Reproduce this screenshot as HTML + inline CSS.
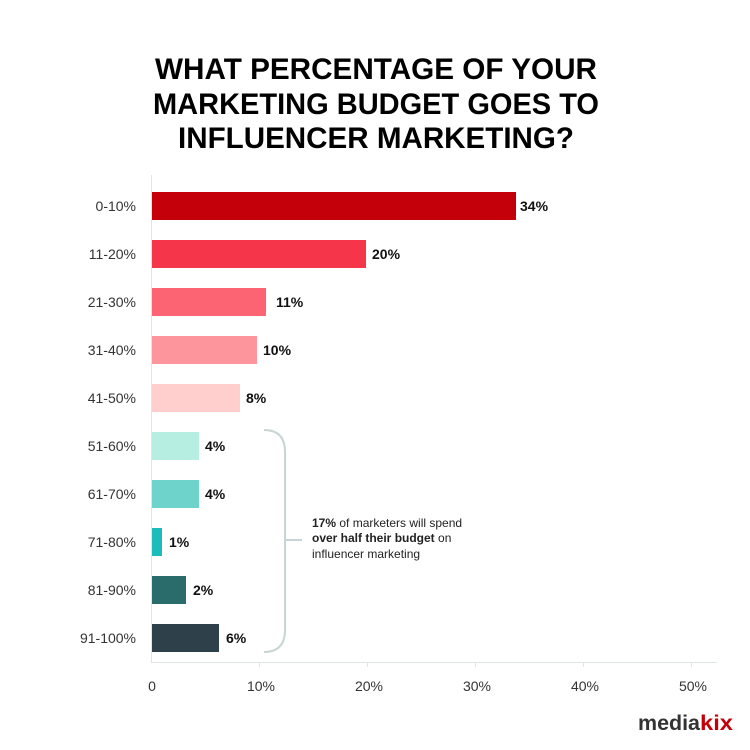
<!DOCTYPE html>
<html><head><meta charset="utf-8"><style>
html,body{margin:0;padding:0;background:#fff;}
svg{display:block;font-family:"Liberation Sans",sans-serif;}
</style></head><body>
<svg width="750" height="750" viewBox="0 0 750 750" xmlns="http://www.w3.org/2000/svg">
<rect width="750" height="750" fill="#fff"/>
<g font-weight="bold" font-size="30" fill="#000" text-anchor="middle">
<text x="376" y="79" textLength="442" lengthAdjust="spacingAndGlyphs">WHAT PERCENTAGE OF YOUR</text>
<text x="376" y="114" textLength="446" lengthAdjust="spacingAndGlyphs">MARKETING BUDGET GOES TO</text>
<text x="376" y="148" textLength="396" lengthAdjust="spacingAndGlyphs">INFLUENCER MARKETING?</text>
</g>
<line x1="151.5" y1="175" x2="151.5" y2="662" stroke="#dfe6e6" stroke-width="1"/>
<line x1="151" y1="662.5" x2="717" y2="662.5" stroke="#dfe6e6" stroke-width="1"/>
<g stroke="#dfe6e6"><line x1="259.5" y1="662" x2="259.5" y2="667"/><line x1="367.5" y1="662" x2="367.5" y2="667"/><line x1="475.5" y1="662" x2="475.5" y2="667"/><line x1="583.5" y1="662" x2="583.5" y2="667"/><line x1="691.5" y1="662" x2="691.5" y2="667"/></g>
<g font-size="14" fill="#333" text-anchor="middle">
<text x="152" y="691">0</text><text x="261" y="691">10%</text><text x="369" y="691">20%</text><text x="477" y="691">30%</text><text x="585" y="691">40%</text><text x="693" y="691">50%</text>
</g>
<g font-size="14" fill="#333" text-anchor="end">
<text x="136" y="211">0-10%</text><text x="136" y="259">11-20%</text><text x="136" y="307">21-30%</text><text x="136" y="355">31-40%</text><text x="136" y="403">41-50%</text>
<text x="136" y="451">51-60%</text><text x="136" y="499">61-70%</text><text x="136" y="547">71-80%</text><text x="136" y="595">81-90%</text><text x="136" y="643">91-100%</text>
</g>
<rect x="152" y="192" width="364" height="28" fill="#c4000a"/>
<rect x="152" y="240" width="214" height="28" fill="#f5364a"/>
<rect x="152" y="288" width="114" height="28" fill="#fd6473"/>
<rect x="152" y="336" width="105" height="28" fill="#fd959c"/>
<rect x="152" y="384" width="88" height="28" fill="#fecfcd"/>
<rect x="152" y="432" width="47" height="28" fill="#b6efe2"/>
<rect x="152" y="480" width="47" height="28" fill="#6ed4cb"/>
<rect x="152" y="528" width="10" height="28" fill="#1cbcb9"/>
<rect x="152" y="576" width="34" height="28" fill="#2a6b6c"/>
<rect x="152" y="624" width="67" height="28" fill="#2e414a"/>
<g font-size="14" font-weight="bold" fill="#111">
<text x="520" y="211">34%</text><text x="372" y="259">20%</text><text x="276" y="307">11%</text><text x="263" y="355">10%</text><text x="246" y="403">8%</text>
<text x="205" y="451">4%</text><text x="205" y="499">4%</text><text x="169" y="547">1%</text><text x="193" y="595">2%</text><text x="226" y="643">6%</text>
</g>
<path d="M264 430 Q285 430 285 452 L285 630 Q285 652 264 652 M285 540 L302 540" fill="none" stroke="#c6d6d4" stroke-width="2"/>
<g font-size="12" fill="#222">
<text x="312" y="527"><tspan font-weight="bold">17%</tspan> of marketers will spend</text>
<text x="312" y="542"><tspan font-weight="bold">over half their budget</tspan> on</text>
<text x="312" y="558">influencer marketing</text>
</g>
<text x="638" y="730" font-size="21" font-weight="bold" fill="#333" textLength="62" lengthAdjust="spacingAndGlyphs">media</text>
<text x="700" y="730" font-size="21" font-weight="bold" fill="#c4000a" textLength="33" lengthAdjust="spacingAndGlyphs">kix</text>
</svg>
</body></html>
